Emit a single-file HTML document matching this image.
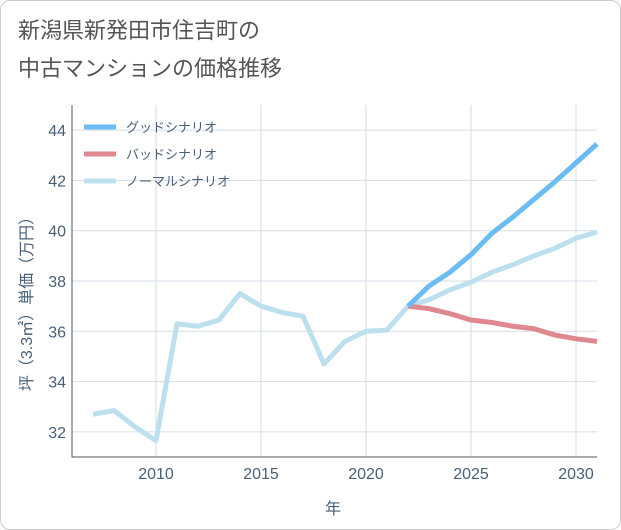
<!DOCTYPE html>
<html><head><meta charset="utf-8"><style>
body{margin:0;background:#fff;font-family:"Liberation Sans","Noto Sans CJK JP",sans-serif;}
#card{position:absolute;left:0;top:0;width:619px;height:528px;border:1px solid #ccc;border-radius:10px;background:#fff;}
#title{position:absolute;left:18px;top:12px;font-size:22px;line-height:38px;color:#555;}
</style></head><body>
<div id="card"></div>
<div id="title">新潟県新発田市住吉町の<br>中古マンションの価格推移</div>
<svg id="chart" width="621" height="530" style="position:absolute;left:0;top:0"></svg>
<script>
const years=[2007,2008,2009,2010,2011,2012,2013,2014,2015,2016,2017,2018,2019,2020,2021,2022,2023,2024,2025,2026,2027,2028,2029,2030,2031];
const normal=[32.7,32.85,32.2,31.65,36.3,36.2,36.45,37.5,37.0,36.75,36.6,34.7,35.6,36.0,36.05,37.0,37.25,37.65,37.95,38.35,38.65,39.0,39.3,39.7,39.95];
const futureYears=[2022,2023,2024,2025,2026,2027,2028,2029,2030,2031];
const good=[37.0,37.8,38.35,39.05,39.9,40.55,41.25,41.95,42.7,43.45];
const bad=[37.0,36.9,36.7,36.45,36.35,36.2,36.1,35.85,35.7,35.6];
const xTicks=[2010,2015,2020,2025,2030];
const yTicks=[32,34,36,38,40,42,44];
const L=72,R=597,T=105,B=457;
const x=v=>L+(v-2006)/(2031-2006)*(R-L);
const y=v=>B-(v-31)/(45-31)*(B-T);
const svg=document.getElementById('chart');
const NS='http://www.w3.org/2000/svg';
function mk(tag,attrs,parent){const e=document.createElementNS(NS,tag);for(const k in attrs)e.setAttribute(k,attrs[k]);(parent||svg).appendChild(e);return e;}
const bg=mk('rect',{x:L,y:T,width:R-L,height:B-T,fill:'#fff',stroke:'none'});


xTicks.forEach(t=>{
 const g=mk('line',{x1:x(t),x2:x(t),y1:T,y2:B,stroke:'#d5dde6','stroke-width':1});
 
 
 const tx=mk('text',{x:x(t),y:B+22,'text-anchor':'middle','font-size':16,fill:'#4a6078'});
 tx.textContent=t;
 
 
});
yTicks.forEach(t=>{
 const g=mk('line',{x1:L,x2:R,y1:y(t),y2:y(t),stroke:'#d5dde6','stroke-width':1});
 
 
 const tx=mk('text',{x:L-6,y:y(t)+6,'text-anchor':'end','font-size':16,fill:'#4a6078'});
 tx.textContent=t;
 
 
});
const ax=mk('path',{d:`M${L},${T}V${B}H${R}`,fill:'none',stroke:'#555','stroke-width':1});


function line(xs,vs,color,name){
 const p=mk('polyline',{points:xs.map((t,i)=>x(t)+','+y(vs[i])).join(' '),fill:'none',stroke:color,'stroke-width':5,'stroke-linejoin':'round'});
 
 
}
line(years,normal,'#bde0ef','normal-scenario-line');
line(futureYears,bad,'#e0888f','bad-scenario-line');
line(futureYears,good,'#6bbcf2','good-scenario-line');
const leg=[['グッドシナリオ','#6bbcf2'],['バッドシナリオ','#e0888f'],['ノーマルシナリオ','#bde0ef']];
leg.forEach((l,i)=>{
 const yy=127+i*27;
 const g=mk('g',{});
 
 
 mk('line',{x1:84,x2:116,y1:yy,y2:yy,stroke:l[1],'stroke-width':5},g);
 const t=mk('text',{x:126,y:yy+5,'font-size':13,fill:'#4a6078'},g);
 t.textContent=l[0];
});
const xt=mk('text',{x:333,y:514,'text-anchor':'middle','font-size':16,fill:'#4a6078'});
xt.textContent='年';


const yt=mk('text',{x:0,y:0,'text-anchor':'middle','font-size':16,fill:'#4a6078',transform:'translate(32,300) rotate(-90)'});
yt.textContent='坪（3.3㎡）単価（万円）';


</script>
</body></html>
